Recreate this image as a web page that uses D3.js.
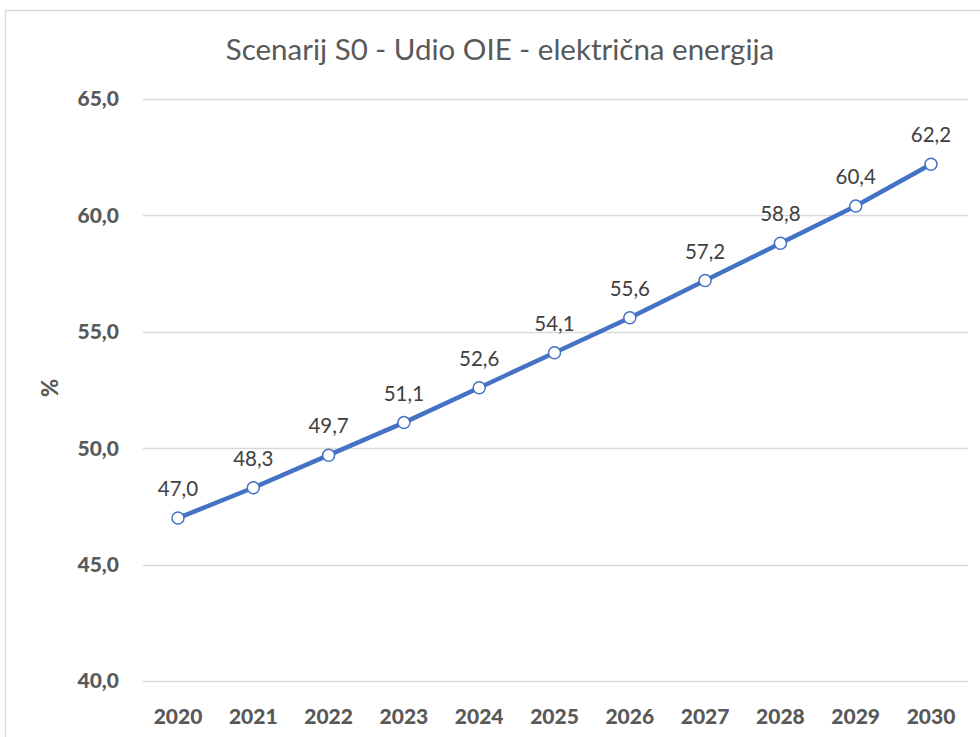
<!DOCTYPE html>
<html>
<head>
<meta charset="utf-8">
<script src="https://cdn.jsdelivr.net/npm/d3@7"></script>
<style>
  body { margin: 0; background: #fff; }
  svg { display: block; font-family: Lato, "Open Sans", sans-serif; }
</style>
</head>
<body>
<svg id="chart" width="980" height="737"></svg>
<script>
const title = "Scenarij S0 - Udio OIE - električna energija";
const years = ["2020", "2021", "2022", "2023", "2024", "2025", "2026", "2027", "2028", "2029", "2030"];
const share = [47.0, 48.3, 49.7, 51.1, 52.6, 54.1, 55.6, 57.2, 58.8, 60.4, 62.2];
const yTicks = [40, 45, 50, 55, 60, 65];

const svg = d3.select("#chart");
const fmt = d => d.toFixed(1).replace(".", ",");

// chart border
svg.append("rect")
  .attr("x", 5.5).attr("y", 10.5)
  .attr("width", 1000).attr("height", 800)
  .attr("fill", "none").attr("stroke", "#d9d9d9").attr("stroke-width", 1.5);

const plotL = 143, plotR = 968, plotT = 99, plotB = 681;

const x = d3.scalePoint().domain(years).range([178, 931]);
const y = d3.scaleLinear().domain([40, 65]).range([plotB, plotT]);

// gridlines
svg.append("g")
  .selectAll("line")
  .data(yTicks)
  .join("line")
  .attr("x1", plotL).attr("x2", plotR)
  .attr("y1", d => Math.round(y(d)) + 0.5)
  .attr("y2", d => Math.round(y(d)) + 0.5)
  .attr("stroke", "#d9d9d9").attr("stroke-width", 1.5);

// y axis labels
svg.append("g")
  .selectAll("text")
  .data(yTicks)
  .join("text")
  .attr("x", 119).attr("y", d => y(d))
  .attr("dy", "0.35em")
  .attr("text-anchor", "end")
  .attr("fill", "#595959")
  .attr("font-size", 21).attr("font-weight", 900)
  .text(fmt);

// x axis labels
svg.append("g")
  .selectAll("text")
  .data(years)
  .join("text")
  .attr("x", d => x(d)).attr("y", 724)
  .attr("text-anchor", "middle")
  .attr("fill", "#595959")
  .attr("font-size", 21).attr("font-weight", 900)
  .text(d => d);

// y title
svg.append("text")
  .attr("transform", "translate(58,388) rotate(-90)")
  .attr("text-anchor", "middle")
  .attr("fill", "#595959")
  .attr("font-size", 22).attr("font-weight", 900)
  .text("%");

// title
svg.append("text")
  .attr("x", 500).attr("y", 60)
  .attr("text-anchor", "middle")
  .attr("fill", "#595959")
  .attr("font-size", 29.5)
  .text(title);

const pts = years.map((yr, i) => ({ yr, v: share[i] }));

svg.append("path")
  .datum(pts)
  .attr("fill", "none")
  .attr("stroke", "#4472c4")
  .attr("stroke-width", 4.5)
  .attr("stroke-linejoin", "round")
  .attr("d", d3.line().x(d => x(d.yr)).y(d => y(d.v)));

svg.append("g")
  .selectAll("circle")
  .data(pts)
  .join("circle")
  .attr("cx", d => x(d.yr)).attr("cy", d => y(d.v))
  .attr("r", 6)
  .attr("fill", "#fff")
  .attr("stroke", "#4472c4").attr("stroke-width", 1.5);

svg.append("g")
  .selectAll("text")
  .data(pts)
  .join("text")
  .attr("x", d => x(d.yr)).attr("y", d => y(d.v) - 22)
  .attr("text-anchor", "middle")
  .attr("fill", "#404040")
  .attr("font-size", 20.5)
  .text(d => fmt(d.v));
</script>
</body>
</html>
